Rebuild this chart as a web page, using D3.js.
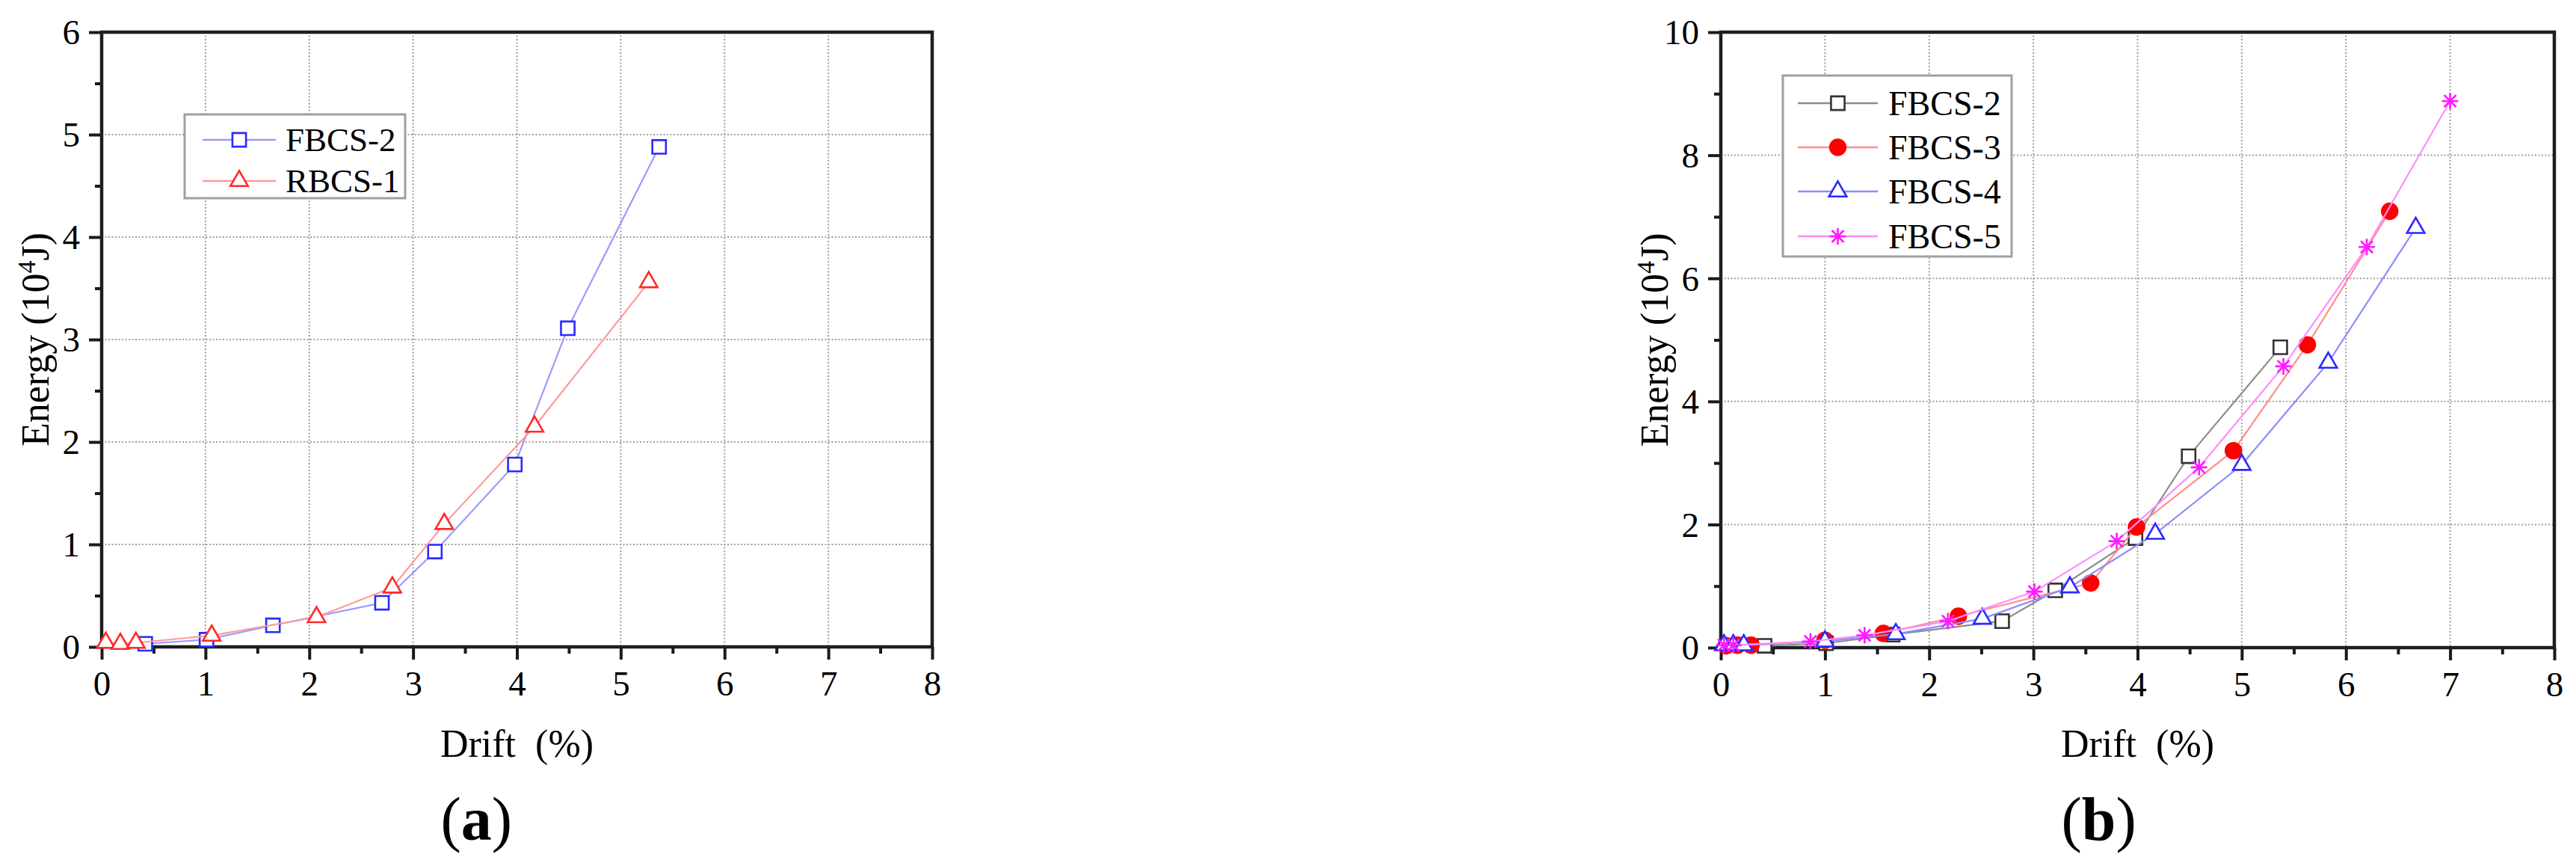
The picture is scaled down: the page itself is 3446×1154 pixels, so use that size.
<!DOCTYPE html>
<html>
<head>
<meta charset="utf-8">
<script src="https://cdn.jsdelivr.net/npm/d3@7"></script>
<style>
  body { margin: 0; background: #fff; }
</style>
</head>
<body>
<script>
// energy dissipation vs drift
// drift in %, energy in 10^4 J

var fbcs2Drift  = [0.42, 1.01, 1.65, 2.70, 3.21, 3.98, 4.49, 5.37];
var fbcs2Energy = [0.03, 0.07, 0.21, 0.43, 0.93, 1.78, 3.11, 4.88];

var rbcs1Drift  = [0.04, 0.18, 0.33, 1.06, 2.07, 2.80, 3.30, 4.17, 5.27];
var rbcs1Energy = [0.04, 0.03, 0.04, 0.11, 0.29, 0.58, 1.20, 2.15, 3.56];

var fbcs3Drift  = [0.05, 0.16, 0.29, 1.00, 1.56, 2.28, 3.55, 3.99, 4.92, 5.63, 6.42];
var fbcs3Energy = [0.03, 0.04, 0.04, 0.12, 0.23, 0.51, 1.05, 1.96, 3.20, 4.92, 7.09];

var fbcs4Drift  = [0.03, 0.12, 0.22, 1.00, 1.68, 2.51, 3.35, 4.17, 5.00, 5.83, 6.67];
var fbcs4Energy = [0.04, 0.04, 0.04, 0.10, 0.22, 0.47, 0.98, 1.85, 2.97, 4.63, 6.82];

var fbcs5Drift  = [0.03, 0.12, 0.86, 1.38, 2.18, 3.01, 3.80, 4.59, 5.40, 6.20, 7.00];
var fbcs5Energy = [0.04, 0.04, 0.10, 0.20, 0.43, 0.91, 1.73, 2.93, 4.57, 6.51, 8.88];

var xTicks = [0, 1, 2, 3, 4, 5, 6, 7, 8];
var yTicksA = [0, 1, 2, 3, 4, 5, 6];
var yTicksB = [0, 2, 4, 6, 8, 10];

var serif = '"Liberation Serif", "Times New Roman", Times, serif';

function zip(xs, ys) {
  return xs.map(function(d, i) { return {x: d, y: ys[i]}; });
}

var svg = d3.select("body")
            .append("svg")
            .attr("width", 3446)
            .attr("height", 1154)
            .style("font-family", serif);

// marker shapes
function markerPath(type) {
  if (type == "square") return d3.symbol().type(d3.symbolSquare).size(330)();
  if (type == "triangle") return d3.symbol().type(d3.symbolTriangle).size(240)();
  if (type == "circle") return d3.symbol().type(d3.symbolCircle).size(340)();
  // asterisk
  return "M0,-11V11M-8,-8L8,8M-8,8L8,-8M-11,0H11";
}

function drawMarkers(g, pts, s) {
  g.selectAll(".m")
    .data(pts)
  .enter().append("path")
    .attr("class", "m")
    .attr("transform", function(d) { return "translate(" + d[0] + "," + d[1] + ")"; })
    .attr("d", markerPath(s.marker))
    .style("fill", s.fill)
    .style("stroke", s.stroke)
    .style("stroke-width", 2.6);
}

function drawPanel(cfg) {
  var g = svg.append("g");

  var x = d3.scaleLinear().domain([0, 8]).range([cfg.left, cfg.right]);
  var y = d3.scaleLinear().domain([0, cfg.yMax]).range([cfg.bottom, cfg.top]);

  // dotted grid at the major ticks
  g.append("g")
    .selectAll("line")
    .data(xTicks.slice(1, -1))
  .enter().append("line")
    .attr("x1", function(d) { return x(d); })
    .attr("x2", function(d) { return x(d); })
    .attr("y1", cfg.top)
    .attr("y2", cfg.bottom)
    .style("stroke", "#a0a0a0")
    .style("stroke-width", 2)
    .style("stroke-dasharray", "2,2.5");

  g.append("g")
    .selectAll("line")
    .data(cfg.yTicks.slice(1, -1))
  .enter().append("line")
    .attr("x1", cfg.left)
    .attr("x2", cfg.right)
    .attr("y1", function(d) { return y(d); })
    .attr("y2", function(d) { return y(d); })
    .style("stroke", "#a0a0a0")
    .style("stroke-width", 2)
    .style("stroke-dasharray", "2,2.5");

  // minor ticks
  g.append("g")
    .attr("transform", "translate(0," + cfg.bottom + ")")
    .call(d3.axisBottom(x).tickValues(d3.range(0.5, 8, 1)).tickSize(9).tickSizeOuter(0).tickFormat(""));
  g.append("g")
    .attr("transform", "translate(" + cfg.left + ",0)")
    .call(d3.axisLeft(y).tickValues(cfg.yMinor).tickSize(9).tickSizeOuter(0).tickFormat(""));

  // major ticks + labels
  var xa = g.append("g")
    .attr("transform", "translate(0," + cfg.bottom + ")")
    .call(d3.axisBottom(x).tickValues(xTicks).tickSize(17).tickSizeOuter(0).tickFormat(d3.format("d")));
  xa.selectAll("text")
    .attr("y", 65)
    .attr("dy", null)
    .style("font-family", serif)
    .style("font-size", "47px")
    .style("fill", "#000");

  var ya = g.append("g")
    .attr("transform", "translate(" + cfg.left + ",0)")
    .call(d3.axisLeft(y).tickValues(cfg.yTicks).tickSize(17).tickSizeOuter(0).tickFormat(d3.format("d")));
  ya.selectAll("text")
    .attr("x", -29)
    .attr("dy", "0.34em")
    .style("font-family", serif)
    .style("font-size", "47px")
    .style("fill", "#000");

  g.selectAll(".domain").remove();
  g.selectAll(".tick line")
    .style("stroke", "#1a1a1a")
    .style("stroke-width", 4);

  // frame
  g.append("rect")
    .attr("x", cfg.left)
    .attr("y", cfg.top)
    .attr("width", cfg.right - cfg.left)
    .attr("height", cfg.bottom - cfg.top)
    .style("fill", "none")
    .style("stroke", "#1e1e1e")
    .style("stroke-width", 4.5);

  var line = d3.line()
    .x(function(d) { return x(d.x); })
    .y(function(d) { return y(d.y); });

  cfg.series.forEach(function(s) {
    var sg = g.append("g");
    sg.append("path")
      .datum(s.data)
      .attr("d", line)
      .style("fill", "none")
      .style("stroke", s.line)
      .style("stroke-width", 2.2);
    drawMarkers(sg, s.data.map(function(d) { return [x(d.x), y(d.y)]; }), s);
  });

  // legend
  var lg = cfg.legend;
  g.append("rect")
    .attr("x", lg.x0)
    .attr("y", lg.y0)
    .attr("width", lg.x1 - lg.x0)
    .attr("height", lg.y1 - lg.y0)
    .style("fill", "#fff")
    .style("stroke", "#a0a0a0")
    .style("stroke-width", 3);

  cfg.series.forEach(function(s, i) {
    var ry = lg.rows[i];
    var row = g.append("g");
    row.append("line")
      .attr("x1", lg.lineX0)
      .attr("x2", lg.lineX1)
      .attr("y1", ry)
      .attr("y2", ry)
      .style("stroke", s.line)
      .style("stroke-width", 2.6);
    drawMarkers(row, [[(lg.lineX0 + lg.lineX1) / 2, ry]], s);
    row.append("text")
      .attr("x", lg.textX)
      .attr("y", ry)
      .attr("dy", "0.34em")
      .style("font-family", serif)
      .style("font-size", lg.font + "px")
      .text(s.name);
  });

  // axis titles
  var title = g.append("text")
    .attr("transform", "translate(" + (cfg.left - 71) + "," + ((cfg.top + cfg.bottom) / 2) + ") rotate(-90)")
    .attr("text-anchor", "middle")
    .style("font-family", serif)
    .style("font-size", "52px");
  title.append("tspan").text("Energy (10");
  title.append("tspan").attr("dy", -18).style("font-size", "34px").text("4");
  title.append("tspan").attr("dy", 18).text("J)");

  var cx = (cfg.left + cfg.right) / 2;
  g.append("text")
    .attr("x", cx)
    .attr("y", 1012)
    .attr("text-anchor", "middle")
    .style("font-family", serif)
    .style("font-size", "52px")
    .style("white-space", "pre")
    .text("Drift  (%)");

  var lab = g.append("text")
    .attr("x", cx - 102)
    .attr("y", 1123)
    .style("font-family", serif)
    .style("font-size", "82px");
  lab.append("tspan").text("(");
  lab.append("tspan").style("font-weight", "bold").text(cfg.tag);
  lab.append("tspan").text(")");
}

// panel (a)
drawPanel({
  left: 136, right: 1247, top: 43, bottom: 865,
  yMax: 6, yTicks: yTicksA, yMinor: d3.range(0.5, 6, 1),
  tag: "a",
  legend: {x0: 247, y0: 153, x1: 542, y1: 265, rows: [187, 242],
           lineX0: 271, lineX1: 369, textX: 382, font: 45},
  series: [
    {name: "FBCS-2", data: zip(fbcs2Drift, fbcs2Energy), marker: "square",
     line: "#9a9aff", stroke: "#2a2aff", fill: "#fff"},
    {name: "RBCS-1", data: zip(rbcs1Drift, rbcs1Energy), marker: "triangle",
     line: "#ff9a9a", stroke: "#ff2a2a", fill: "#fff"}
  ]
});

// panel (b)
drawPanel({
  left: 2302, right: 3417, top: 43, bottom: 866,
  yMax: 10, yTicks: yTicksB, yMinor: d3.range(1, 10, 2),
  tag: "b",
  legend: {x0: 2385, y0: 101, x1: 2691, y1: 343, rows: [138, 197, 256, 316],
           lineX0: 2405, lineX1: 2512, textX: 2526, font: 46},
  series: [
    {name: "FBCS-2", data: zip(fbcs2Drift, fbcs2Energy), marker: "square",
     line: "#8c8c8c", stroke: "#333", fill: "#fff"},
    {name: "FBCS-3", data: zip(fbcs3Drift, fbcs3Energy), marker: "circle",
     line: "#ff8c8c", stroke: "#ff0000", fill: "#ff0000"},
    {name: "FBCS-4", data: zip(fbcs4Drift, fbcs4Energy), marker: "triangle",
     line: "#8c8cff", stroke: "#2a2aff", fill: "#fff"},
    {name: "FBCS-5", data: zip(fbcs5Drift, fbcs5Energy), marker: "asterisk",
     line: "#ff8cff", stroke: "#ff1aff", fill: "none"}
  ]
});
</script>
</body>
</html>
